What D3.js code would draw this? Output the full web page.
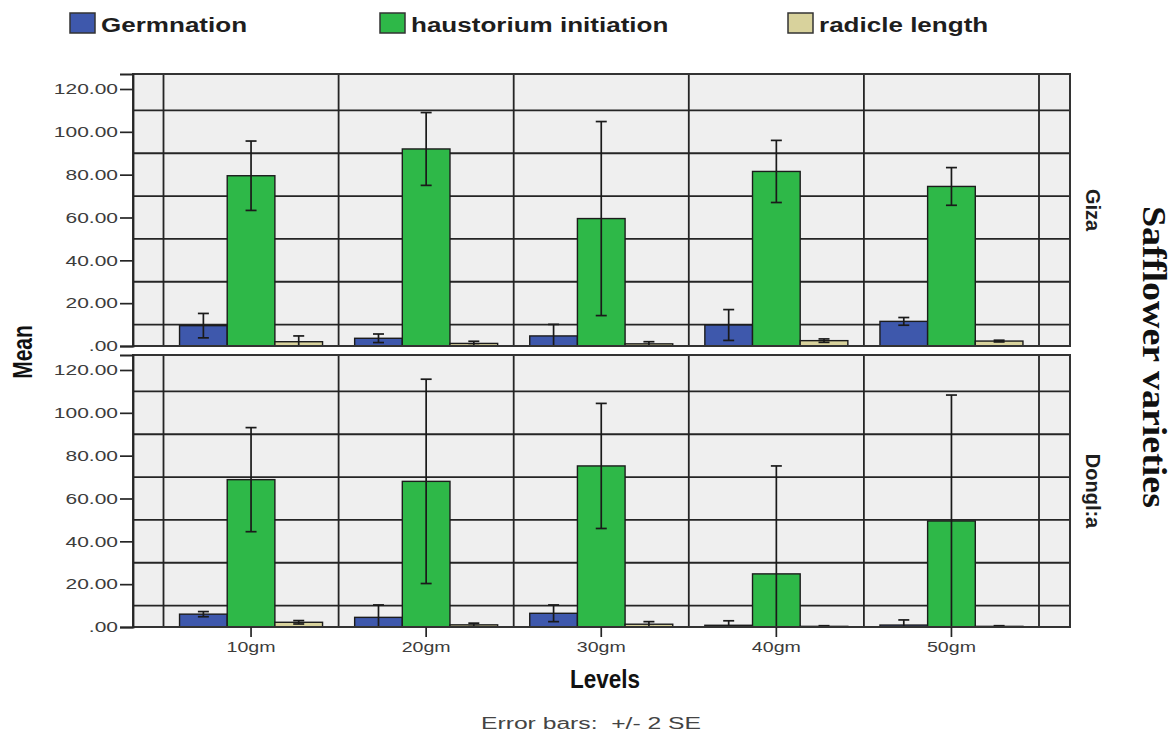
<!DOCTYPE html>
<html>
<head>
<meta charset="utf-8">
<script src="https://cdn.jsdelivr.net/npm/d3@7"></script>
<style>
  body { margin: 0; background: #fff; }
  svg { display: block; }
</style>
</head>
<body>
<svg id="chart" width="1172" height="738"></svg>
<script>
// ---- data -------------------------------------------------------------
const categories = ["10gm", "20gm", "30gm", "40gm", "50gm"];
const seriesNames = ["Germnation", "haustorium initiation", "radicle length"];
const varieties = ["Giza", "Dongl:a"];

// Giza: means and error half-widths (2 SE)
const gizaGerm = [9.5, 3.6, 4.7, 9.8, 11.5];
const gizaGermErr = [5.7, 2.0, 5.4, 7.2, 1.8];
const gizaHaus = [79.5, 92.0, 59.5, 81.5, 74.5];
const gizaHausErr = [16.2, 17.0, 45.3, 14.5, 8.8];
const gizaRad = [2.0, 1.2, 1.0, 2.5, 2.3];
const gizaRadErr = [2.7, 1.0, 1.0, 0.8, 0.4];

// Dongl:a: means and error half-widths (2 SE)
const donglaGerm = [6.0, 4.5, 6.4, 0.8, 0.9];
const donglaGermErr = [1.2, 5.8, 3.9, 2.1, 2.4];
const donglaHaus = [68.8, 68.0, 75.2, 24.8, 49.5];
const donglaHausErr = [24.3, 47.7, 29.2, 50.4, 58.8];
const donglaRad = [2.2, 1.0, 1.3, 0.3, 0.3];
const donglaRadErr = [0.8, 0.8, 1.2, 0.3, 0.3];

const yTicks = [0, 20, 40, 60, 80, 100, 120];
const gridValues = [10, 30, 50, 70, 90, 110];
const colors = ["#3e58ac", "#2eb848", "#d8d29c"];

// ---- layout -------------------------------------------------------------
const svg = d3.select("#chart");
const plotLeft = 133, plotRight = 1070;
const panelBoxes = [{ top: 74, bottom: 346 }, { top: 355, bottom: 627 }];
const panelData = [
  { name: varieties[0], means: [gizaGerm, gizaHaus, gizaRad], errs: [gizaGermErr, gizaHausErr, gizaRadErr] },
  { name: varieties[1], means: [donglaGerm, donglaHaus, donglaRad], errs: [donglaGermErr, donglaHausErr, donglaRadErr] }
];
const SX = 1.4;           // horizontal widening used for the sans labels
const fontSans = "'Liberation Sans', Arial, sans-serif";
const gridColor = "#252525";

const x = d3.scaleBand().domain(categories).range([163.5, 1039]).padding(0);
const groupWidth = 143;
const xs = d3.scaleBand().domain(seriesNames).range([0, groupWidth]).padding(0);
const groupOffset = (x.bandwidth() - groupWidth) / 2;

const yFmt = d => d === 0 ? ".00" : d3.format(".2f")(d);

panelData.forEach((p, pi) => {
  const box = panelBoxes[pi];
  const y = d3.scaleLinear().domain([0, 127]).range([box.bottom, box.top]);
  const g = svg.append("g");

  g.append("rect")
    .attr("x", plotLeft).attr("y", box.top)
    .attr("width", plotRight - plotLeft).attr("height", box.bottom - box.top)
    .attr("fill", "#efefef");

  const clipId = "clip" + pi;
  svg.append("clipPath").attr("id", clipId).append("rect")
    .attr("x", plotLeft).attr("y", box.top)
    .attr("width", plotRight - plotLeft).attr("height", box.bottom - box.top);

  // horizontal grid
  g.selectAll(".hgrid").data(gridValues).join("line")
    .attr("x1", plotLeft).attr("x2", plotRight)
    .attr("y1", d => y(d)).attr("y2", d => y(d))
    .attr("stroke", gridColor).attr("stroke-width", 1.8);

  // vertical grid at category boundaries
  const bounds = categories.map(c => x(c)).concat([x.range()[1]]);
  g.selectAll(".vgrid").data(bounds).join("line")
    .attr("x1", d => d).attr("x2", d => d)
    .attr("y1", box.top).attr("y2", box.bottom)
    .attr("stroke", gridColor).attr("stroke-width", 1.8);

  const items = [];
  seriesNames.forEach((s, si) => {
    categories.forEach((c, ci) => {
      items.push({ s, si, c, v: p.means[si][ci], e: p.errs[si][ci] });
    });
  });

  const plot = g.append("g").attr("clip-path", `url(#${clipId})`);
  plot.selectAll(".bar").data(items).join("rect")
    .attr("x", d => x(d.c) + groupOffset + xs(d.s))
    .attr("width", xs.bandwidth())
    .attr("y", d => y(d.v))
    .attr("height", d => y(0) - y(d.v))
    .attr("fill", d => colors[d.si])
    .attr("stroke", "#1c1c1c").attr("stroke-width", 1.4);

  const eb = plot.selectAll(".err").data(items).join("g")
    .attr("stroke", "#1a1a1a").attr("stroke-width", 1.7);
  const cx = d => x(d.c) + groupOffset + xs(d.s) + xs.bandwidth() / 2;
  eb.append("line")
    .attr("x1", cx).attr("x2", cx)
    .attr("y1", d => y(d.v + d.e)).attr("y2", d => y(d.v - d.e));
  eb.append("line")
    .attr("x1", d => cx(d) - 5.5).attr("x2", d => cx(d) + 5.5)
    .attr("y1", d => y(d.v + d.e)).attr("y2", d => y(d.v + d.e));
  eb.append("line")
    .attr("x1", d => cx(d) - 5.5).attr("x2", d => cx(d) + 5.5)
    .attr("y1", d => y(d.v - d.e)).attr("y2", d => y(d.v - d.e));

  // panel frame
  g.append("rect")
    .attr("x", plotLeft).attr("y", box.top)
    .attr("width", plotRight - plotLeft).attr("height", box.bottom - box.top)
    .attr("fill", "none").attr("stroke", "#333").attr("stroke-width", 2);

  // left axis
  const ax = g.append("g").attr("transform", `translate(${plotLeft},0)`)
    .call(d3.axisLeft(y).tickValues(yTicks).tickFormat(yFmt).tickSize(13).tickPadding(2));
  ax.select(".domain").attr("stroke", gridColor).attr("stroke-width", 1.8);
  ax.selectAll(".tick line").attr("stroke", gridColor).attr("stroke-width", 1.7);
  ax.selectAll(".tick text")
    .attr("font-family", fontSans).attr("font-size", 15).attr("fill", "#3c3c3c")
    .attr("x", -15 / SX).attr("transform", `scale(${SX},1)`);

  // facet label on the right
  g.append("text")
    .attr("transform", `translate(1093,${(box.top + box.bottom) / 2}) rotate(90)`)
    .attr("text-anchor", "middle").attr("dy", "0.36em")
    .attr("font-family", fontSans).attr("font-weight", "bold")
    .attr("font-size", 20).attr("fill", "#1e1e1e")
    .text(p.name);

  if (pi === panelData.length - 1) {
    const bx = g.append("g").attr("transform", `translate(0,${box.bottom})`)
      .call(d3.axisBottom(x).tickSize(10).tickPadding(5));
    bx.select(".domain").remove();
    bx.selectAll(".tick line").attr("stroke", gridColor).attr("stroke-width", 1.7);
    bx.selectAll(".tick text")
      .attr("font-family", fontSans).attr("font-size", 14).attr("fill", "#3c3c3c")
      .attr("transform", `scale(${SX},1)`);
  }
});

// ---- legend -------------------------------------------------------------
const legendX = [70, 380, 788];
const leg = svg.append("g");
seriesNames.forEach((s, i) => {
  leg.append("rect")
    .attr("x", legendX[i]).attr("y", 13).attr("width", 25).attr("height", 20)
    .attr("fill", colors[i]).attr("stroke", "#333").attr("stroke-width", 1.5);
  leg.append("text")
    .attr("transform", `translate(${legendX[i] + 31},32) scale(1.24,1)`)
    .attr("font-family", fontSans).attr("font-weight", "bold")
    .attr("font-size", 21).attr("fill", "#1e1e1e")
    .text(s);
});

// ---- axis titles --------------------------------------------------------
svg.append("text")
  .attr("transform", "translate(22,352) rotate(-90) scale(1,1.3)")
  .attr("text-anchor", "middle").attr("dy", "0.36em")
  .attr("font-family", fontSans).attr("font-weight", "bold")
  .attr("font-size", 21).attr("fill", "#111")
  .text("Mean");

svg.append("text")
  .attr("x", 605).attr("y", 688)
  .attr("text-anchor", "middle")
  .attr("font-family", "'Liberation Sans Narrow', 'Arial Narrow', " + fontSans)
  .attr("font-weight", "bold").attr("font-size", 25).attr("fill", "#111")
  .attr("textLength", 70).attr("lengthAdjust", "spacingAndGlyphs")
  .text("Levels");

svg.append("text")
  .attr("x", 591).attr("y", 729)
  .attr("text-anchor", "middle")
  .attr("font-family", fontSans).attr("font-size", 16).attr("fill", "#444")
  .attr("textLength", 220).attr("lengthAdjust", "spacingAndGlyphs")
  .attr("xml:space", "preserve")
  .text("Error bars:  +/- 2 SE");

svg.append("text")
  .attr("transform", "translate(1154,357) rotate(90)")
  .attr("text-anchor", "middle").attr("dy", "0.34em")
  .attr("font-family", "'Liberation Serif', 'Times New Roman', serif")
  .attr("font-weight", "bold").attr("font-size", 33).attr("fill", "#111")
  .attr("textLength", 302).attr("lengthAdjust", "spacingAndGlyphs")
  .text("Safflower varieties");
</script>
</body>
</html>
